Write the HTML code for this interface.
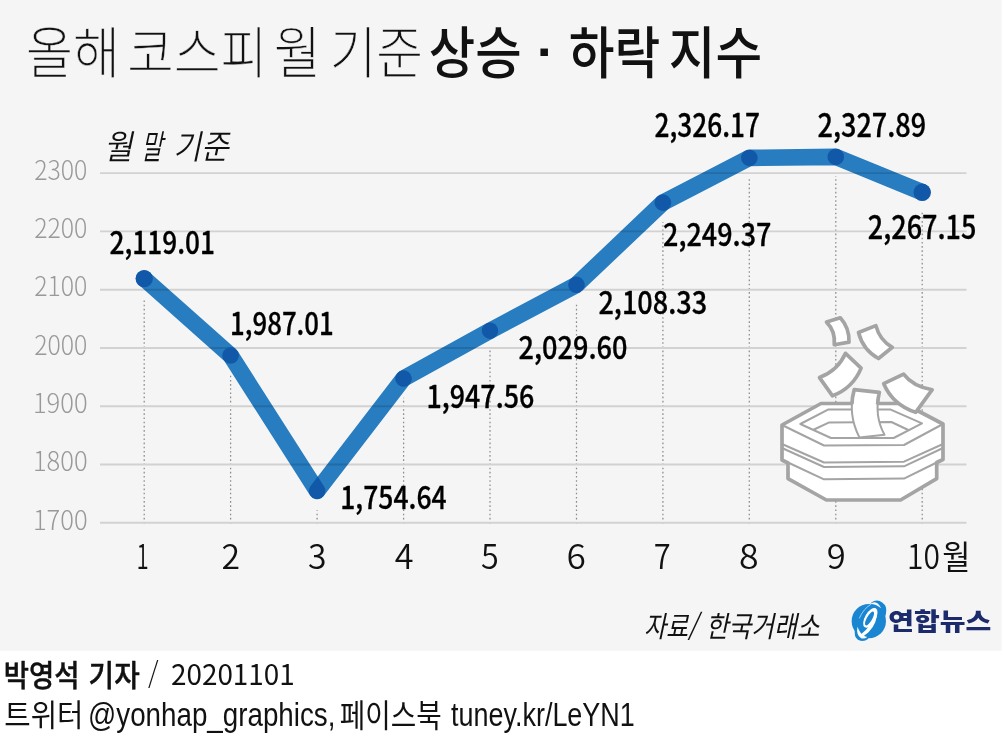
<!DOCTYPE html>
<html lang="ko"><head><meta charset="utf-8"><title>올해 코스피 월 기준 상승·하락 지수</title>
<style>html,body{margin:0;padding:0;background:#fff}body{width:1003px;height:750px;overflow:hidden}svg{display:block}.k{font-family:'Noto Sans CJK KR','Liberation Sans',sans-serif}.l{font-family:'Liberation Sans','Noto Sans CJK KR',sans-serif}</style></head><body>
<svg width="1003" height="750" viewBox="0 0 1003 750">
<rect x="0" y="0" width="1001.6" height="650.8" fill="#f5f5f5"/>
<line x1="144.2" x2="144.2" y1="523.6" y2="297.9" stroke="#8c8c8c" stroke-width="1.25" stroke-dasharray="1.6 2.58"/>
<line x1="230.6" x2="230.6" y1="523.6" y2="374.8" stroke="#8c8c8c" stroke-width="1.25" stroke-dasharray="1.6 2.58"/>
<line x1="317.1" x2="317.1" y1="523.6" y2="510.3" stroke="#8c8c8c" stroke-width="1.25" stroke-dasharray="1.6 2.58"/>
<line x1="403.6" x2="403.6" y1="523.6" y2="397.8" stroke="#8c8c8c" stroke-width="1.25" stroke-dasharray="1.6 2.58"/>
<line x1="490.0" x2="490.0" y1="523.6" y2="350.0" stroke="#8c8c8c" stroke-width="1.25" stroke-dasharray="1.6 2.58"/>
<line x1="576.5" x2="576.5" y1="523.6" y2="304.1" stroke="#8c8c8c" stroke-width="1.25" stroke-dasharray="1.6 2.58"/>
<line x1="662.9" x2="662.9" y1="523.6" y2="221.9" stroke="#8c8c8c" stroke-width="1.25" stroke-dasharray="1.6 2.58"/>
<line x1="749.3" x2="749.3" y1="523.6" y2="177.2" stroke="#8c8c8c" stroke-width="1.25" stroke-dasharray="1.6 2.58"/>
<line x1="835.8" x2="835.8" y1="523.6" y2="176.2" stroke="#8c8c8c" stroke-width="1.25" stroke-dasharray="1.6 2.58"/>
<line x1="922.2" x2="922.2" y1="523.6" y2="211.6" stroke="#8c8c8c" stroke-width="1.25" stroke-dasharray="1.6 2.58"/>
<line x1="100" x2="966.5" y1="522.8" y2="522.8" stroke="#d2d2d2" stroke-width="1.9"/>
<line x1="100" x2="966.5" y1="464.5" y2="464.5" stroke="#d2d2d2" stroke-width="1.9"/>
<line x1="100" x2="966.5" y1="406.2" y2="406.2" stroke="#d2d2d2" stroke-width="1.9"/>
<line x1="100" x2="966.5" y1="348.0" y2="348.0" stroke="#d2d2d2" stroke-width="1.9"/>
<line x1="100" x2="966.5" y1="289.7" y2="289.7" stroke="#d2d2d2" stroke-width="1.9"/>
<line x1="100" x2="966.5" y1="231.4" y2="231.4" stroke="#d2d2d2" stroke-width="1.9"/>
<line x1="100" x2="966.5" y1="173.1" y2="173.1" stroke="#d2d2d2" stroke-width="1.9"/>
<defs><clipPath id="s0"><path d="M138.68,284.80 L225.13,361.73 A8.30,8.30 0 0 0 236.17,349.33 L149.72,272.40 A8.30,8.30 0 0 0 138.68,284.80 Z"/></clipPath><clipPath id="s1"><path d="M223.65,360.00 L310.10,495.42 A8.30,8.30 0 0 0 324.10,486.49 L237.65,351.06 A8.30,8.30 0 0 0 223.65,360.00 Z"/></clipPath><clipPath id="s2"><path d="M323.68,496.02 L410.13,383.58 A8.30,8.30 0 0 0 396.97,373.46 L310.52,485.90 A8.30,8.30 0 0 0 323.68,496.02 Z"/></clipPath><clipPath id="s3"><path d="M407.57,385.79 L494.02,337.97 A8.30,8.30 0 0 0 485.98,323.45 L399.53,371.26 A8.30,8.30 0 0 0 407.57,385.79 Z"/></clipPath><clipPath id="s4"><path d="M493.89,338.04 L580.34,292.16 A8.30,8.30 0 0 0 572.56,277.49 L486.11,323.38 A8.30,8.30 0 0 0 493.89,338.04 Z"/></clipPath><clipPath id="s5"><path d="M582.17,290.84 L668.62,208.64 A8.30,8.30 0 0 0 657.18,196.61 L570.73,278.81 A8.30,8.30 0 0 0 582.17,290.84 Z"/></clipPath><clipPath id="s6"><path d="M666.72,210.00 L753.17,165.24 A8.30,8.30 0 0 0 745.53,150.50 L659.08,195.26 A8.30,8.30 0 0 0 666.72,210.00 Z"/></clipPath><clipPath id="s7"><path d="M749.45,166.17 L835.90,165.17 A8.30,8.30 0 0 0 835.70,148.57 L749.25,149.57 A8.30,8.30 0 0 0 749.45,166.17 Z"/></clipPath><clipPath id="s8"><path d="M832.65,164.55 L919.10,199.95 A8.30,8.30 0 0 0 925.40,184.58 L838.95,149.18 A8.30,8.30 0 0 0 832.65,164.55 Z"/></clipPath></defs>
<g fill="#2982c8" style="mix-blend-mode:multiply">
<path d="M138.68,284.80 L225.13,361.73 A8.30,8.30 0 0 0 236.17,349.33 L149.72,272.40 A8.30,8.30 0 0 0 138.68,284.80 Z M223.65,360.00 L310.10,495.42 A8.30,8.30 0 0 0 324.10,486.49 L237.65,351.06 A8.30,8.30 0 0 0 223.65,360.00 Z M323.68,496.02 L410.13,383.58 A8.30,8.30 0 0 0 396.97,373.46 L310.52,485.90 A8.30,8.30 0 0 0 323.68,496.02 Z M407.57,385.79 L494.02,337.97 A8.30,8.30 0 0 0 485.98,323.45 L399.53,371.26 A8.30,8.30 0 0 0 407.57,385.79 Z M493.89,338.04 L580.34,292.16 A8.30,8.30 0 0 0 572.56,277.49 L486.11,323.38 A8.30,8.30 0 0 0 493.89,338.04 Z M582.17,290.84 L668.62,208.64 A8.30,8.30 0 0 0 657.18,196.61 L570.73,278.81 A8.30,8.30 0 0 0 582.17,290.84 Z M666.72,210.00 L753.17,165.24 A8.30,8.30 0 0 0 745.53,150.50 L659.08,195.26 A8.30,8.30 0 0 0 666.72,210.00 Z M749.45,166.17 L835.90,165.17 A8.30,8.30 0 0 0 835.70,148.57 L749.25,149.57 A8.30,8.30 0 0 0 749.45,166.17 Z M832.65,164.55 L919.10,199.95 A8.30,8.30 0 0 0 925.40,184.58 L838.95,149.18 A8.30,8.30 0 0 0 832.65,164.55 Z"/>
</g>
<g fill="#1159a8">
<path d="M223.65,360.00 L310.10,495.42 A8.30,8.30 0 0 0 324.10,486.49 L237.65,351.06 A8.30,8.30 0 0 0 223.65,360.00 Z" clip-path="url(#s0)"/>
<path d="M323.68,496.02 L410.13,383.58 A8.30,8.30 0 0 0 396.97,373.46 L310.52,485.90 A8.30,8.30 0 0 0 323.68,496.02 Z" clip-path="url(#s1)"/>
<path d="M407.57,385.79 L494.02,337.97 A8.30,8.30 0 0 0 485.98,323.45 L399.53,371.26 A8.30,8.30 0 0 0 407.57,385.79 Z" clip-path="url(#s2)"/>
<path d="M493.89,338.04 L580.34,292.16 A8.30,8.30 0 0 0 572.56,277.49 L486.11,323.38 A8.30,8.30 0 0 0 493.89,338.04 Z" clip-path="url(#s3)"/>
<path d="M582.17,290.84 L668.62,208.64 A8.30,8.30 0 0 0 657.18,196.61 L570.73,278.81 A8.30,8.30 0 0 0 582.17,290.84 Z" clip-path="url(#s4)"/>
<path d="M666.72,210.00 L753.17,165.24 A8.30,8.30 0 0 0 745.53,150.50 L659.08,195.26 A8.30,8.30 0 0 0 666.72,210.00 Z" clip-path="url(#s5)"/>
<path d="M749.45,166.17 L835.90,165.17 A8.30,8.30 0 0 0 835.70,148.57 L749.25,149.57 A8.30,8.30 0 0 0 749.45,166.17 Z" clip-path="url(#s6)"/>
<path d="M832.65,164.55 L919.10,199.95 A8.30,8.30 0 0 0 925.40,184.58 L838.95,149.18 A8.30,8.30 0 0 0 832.65,164.55 Z" clip-path="url(#s7)"/>
<circle cx="144.2" cy="278.6" r="8.7"/><circle cx="922.2" cy="192.3" r="8.7"/>
</g>
<defs><clipPath id="cpE"><rect x="840" y="380" width="60" height="24.2"/></clipPath></defs>
<g fill="#fff" stroke="#a4a4a4" stroke-linejoin="round" stroke-linecap="round">
<path d="M821,403.5 L782,425 L782,460 L788,463 L788,478.6 L826.4,500 L900.6,500 L936.7,478.6 L936.7,462.5 L943,459.5 L943,424 L904,403.5 Z" stroke-width="3.7"/>
<g fill="none" stroke-width="2">
<path d="M782,425 L824,445.5 L904,445 L943,424"/>
<path d="M800.3,424 L828,409.6 L890.7,409.6 L922,423.4 L893.7,438 L831,438 Z"/>
<path d="M814,429.5 L828.7,422.6 L891.4,422 L908.3,430"/>
<path d="M782,444 L824,462.5 L904,461.7 L943,444"/>
<path d="M782,448 L824,467 L904,466.3 L943,448"/>
<path d="M788,462.5 L824,479.3 L904,478.6 L936.7,462.5"/>
</g>
<path d="M854.2,389.7 L879.3,392.3 Q874,416 884.5,434.8 L859.4,437.4 Q847.5,414 854.2,389.7 Z" stroke-width="2"/>
<path d="M854.2,389.7 L879.3,392.3 Q874,416 884.5,434.8 L859.4,437.4 Q847.5,414 854.2,389.7 Z" stroke-width="3.7" fill="none" clip-path="url(#cpE)"/>
<path d="M883.7,383.7 L903.6,374.1 Q913,386.5 932.2,389.7 L915.7,412.3 Q893,405 883.7,383.7 Z" stroke-width="3.7"/>
<path d="M845.5,353.3 L861.1,368.1 Q853,388 832.5,395.8 L819.5,377.6 Q838,370.5 845.5,353.3 Z" stroke-width="3.7"/>
<path d="M858.5,332.5 L875.9,325.6 Q879.5,340 892.3,347.3 L878.5,358.5 Q863,350 858.5,332.5 Z" stroke-width="3.7"/>
<path d="M826.5,322.1 L840.3,317.8 Q849.5,328 849,342.1 L834.3,344.7 Q835.5,331 826.5,322.1 Z" stroke-width="3.7"/>
</g>

<text class="k" transform="translate(26.09,73.38) scale(0.9096,1)" font-size="56.22" font-weight="300" fill="#111" stroke="#f5f5f5" stroke-width="0.40" vector-effect="non-scaling-stroke">올해</text>
<text class="k" transform="translate(127.35,73.38) scale(0.8998,1)" font-size="56.22" font-weight="300" fill="#111" stroke="#f5f5f5" stroke-width="0.40" vector-effect="non-scaling-stroke">코스피</text>
<text class="k" transform="translate(274.10,73.38) scale(0.9067,1)" font-size="56.22" font-weight="300" fill="#111" stroke="#f5f5f5" stroke-width="0.40" vector-effect="non-scaling-stroke">월</text>
<text class="k" transform="translate(329.63,73.38) scale(0.9027,1)" font-size="56.22" font-weight="300" fill="#111" stroke="#f5f5f5" stroke-width="0.40" vector-effect="non-scaling-stroke">기준</text>
<text class="k" transform="translate(428.85,73.22) scale(0.9119,1)" font-size="55.35" font-weight="500" fill="#111">상승</text>
<text class="l" transform="translate(536.84,69.07) scale(1.0562,1)" font-size="50.67" font-weight="700" fill="#111">·</text>
<text class="k" transform="translate(568.86,73.22) scale(0.8990,1)" font-size="55.35" font-weight="500" fill="#111">하락</text>
<text class="k" transform="translate(668.84,73.22) scale(0.9166,1)" font-size="55.35" font-weight="500" fill="#111">지수</text>
<text class="k" transform="translate(104.02,159.00) skewX(-12) scale(0.9212,1)" font-size="33.74" font-weight="350" fill="#111">월</text>
<text class="k" transform="translate(140.85,159.00) skewX(-12) scale(0.6894,1)" font-size="33.74" font-weight="350" fill="#111">말</text>
<text class="k" transform="translate(173.26,159.00) skewX(-12) scale(0.8972,1)" font-size="33.74" font-weight="350" fill="#111">기준</text>
<text class="k" transform="translate(32.94,529.60) scale(0.9547,1)" font-size="26.80" font-weight="300" fill="#999">1700</text>
<text class="k" transform="translate(32.94,471.32) scale(0.9547,1)" font-size="26.80" font-weight="300" fill="#999">1800</text>
<text class="k" transform="translate(32.94,413.04) scale(0.9547,1)" font-size="26.80" font-weight="300" fill="#999">1900</text>
<text class="k" transform="translate(34.13,354.76) scale(0.9274,1)" font-size="26.80" font-weight="300" fill="#999">2000</text>
<text class="k" transform="translate(34.13,296.48) scale(0.9274,1)" font-size="26.80" font-weight="300" fill="#999">2100</text>
<text class="k" transform="translate(34.13,238.20) scale(0.9274,1)" font-size="26.80" font-weight="300" fill="#999">2200</text>
<text class="k" transform="translate(34.13,179.92) scale(0.9274,1)" font-size="26.80" font-weight="300" fill="#999">2300</text>
<text class="k" transform="translate(109.46,253.78) scale(0.8393,1)" font-size="31.28" font-weight="500" fill="#000" stroke="#000" stroke-width="0.30" vector-effect="non-scaling-stroke" stroke-linejoin="round">2,119.01</text>
<text class="k" transform="translate(230.12,335.28) scale(0.8246,1)" font-size="31.28" font-weight="500" fill="#000" stroke="#000" stroke-width="0.30" vector-effect="non-scaling-stroke" stroke-linejoin="round">1,987.01</text>
<text class="k" transform="translate(340.26,509.18) scale(0.8461,1)" font-size="31.28" font-weight="500" fill="#000" stroke="#000" stroke-width="0.30" vector-effect="non-scaling-stroke" stroke-linejoin="round">1,754.64</text>
<text class="k" transform="translate(426.54,408.38) scale(0.8535,1)" font-size="31.41" font-weight="500" fill="#000" stroke="#000" stroke-width="0.30" vector-effect="non-scaling-stroke" stroke-linejoin="round">1,947.56</text>
<text class="k" transform="translate(518.52,359.08) scale(0.8606,1)" font-size="31.54" font-weight="500" fill="#000" stroke="#000" stroke-width="0.30" vector-effect="non-scaling-stroke" stroke-linejoin="round">2,029.60</text>
<text class="k" transform="translate(598.40,313.67) scale(0.8551,1)" font-size="31.68" font-weight="500" fill="#000" stroke="#000" stroke-width="0.30" vector-effect="non-scaling-stroke" stroke-linejoin="round">2,108.33</text>
<text class="k" transform="translate(663.09,246.07) scale(0.8508,1)" font-size="31.68" font-weight="500" fill="#000" stroke="#000" stroke-width="0.30" vector-effect="non-scaling-stroke" stroke-linejoin="round">2,249.37</text>
<text class="k" transform="translate(654.56,136.67) scale(0.8247,1)" font-size="31.81" font-weight="500" fill="#000" stroke="#000" stroke-width="0.30" vector-effect="non-scaling-stroke" stroke-linejoin="round">2,326.17</text>
<text class="k" transform="translate(817.50,136.67) scale(0.8509,1)" font-size="31.81" font-weight="500" fill="#000" stroke="#000" stroke-width="0.30" vector-effect="non-scaling-stroke" stroke-linejoin="round">2,327.89</text>
<text class="k" transform="translate(867.78,239.27) scale(0.8456,1)" font-size="31.95" font-weight="500" fill="#000" stroke="#000" stroke-width="0.30" vector-effect="non-scaling-stroke" stroke-linejoin="round">2,267.15</text>
<text class="k" transform="translate(136.45,569.09) scale(0.6591,1)" font-size="33.78" font-weight="350" fill="#111">1</text>
<text class="k" transform="translate(221.40,569.09) scale(1.0005,1)" font-size="33.78" font-weight="350" fill="#111">2</text>
<text class="k" transform="translate(308.11,569.09) scale(0.9976,1)" font-size="33.78" font-weight="350" fill="#111">3</text>
<text class="k" transform="translate(394.69,569.09) scale(1.0165,1)" font-size="33.78" font-weight="350" fill="#111">4</text>
<text class="k" transform="translate(481.12,569.09) scale(0.9578,1)" font-size="33.78" font-weight="350" fill="#111">5</text>
<text class="k" transform="translate(566.40,569.09) scale(1.0414,1)" font-size="33.78" font-weight="350" fill="#111">6</text>
<text class="k" transform="translate(653.65,569.09) scale(0.9116,1)" font-size="33.78" font-weight="350" fill="#111">7</text>
<text class="k" transform="translate(738.98,569.09) scale(1.0575,1)" font-size="33.78" font-weight="350" fill="#111">8</text>
<text class="k" transform="translate(826.87,569.09) scale(1.0259,1)" font-size="33.78" font-weight="350" fill="#111">9</text>
<text class="k" transform="translate(906.93,569.09) scale(0.8871,1)" font-size="33.78" font-weight="350" fill="#111">10</text>
<text class="k" transform="translate(942.35,569.41) scale(0.9366,1)" font-size="32.67" font-weight="400" fill="#111">월</text>
<text class="k" transform="translate(643.96,636.55) skewX(-12) scale(0.8241,1)" font-size="29.10" font-weight="400" fill="#111">자료/</text>
<text class="k" transform="translate(705.69,636.55) skewX(-12) scale(0.8510,1)" font-size="29.10" font-weight="400" fill="#111">한국거래소</text>
<text class="k" transform="translate(888.14,630.19) scale(1.1636,1)" font-size="24.08" font-weight="900" fill="#1b2b6b">연합뉴스</text>
<text class="k" transform="translate(3.81,686.29) scale(0.9218,1)" font-size="29.78" font-weight="500" fill="#111" stroke="#111" stroke-width="0.45" vector-effect="non-scaling-stroke" stroke-linejoin="round">박영석</text>
<text class="k" transform="translate(88.59,686.29) scale(0.9328,1)" font-size="29.78" font-weight="500" fill="#111" stroke="#111" stroke-width="0.45" vector-effect="non-scaling-stroke" stroke-linejoin="round">기자</text>
<text class="k" transform="translate(148.00,684.78) scale(0.9181,1)" font-size="29.02" font-weight="300" fill="#111">/</text>
<text class="k" transform="translate(170.95,685.36) scale(0.9602,1)" font-size="29.05" font-weight="400" fill="#111">20201101</text>
<text class="k" transform="translate(4.29,725.80) scale(0.9371,1)" font-size="30.60" font-weight="400" fill="#111">트위터</text>
<text class="l" transform="translate(88.08,726.30) scale(0.8439,1)" font-size="32.90" font-weight="400" fill="#111">@yonhap_graphics,</text>
<text class="k" transform="translate(339.83,726.92) scale(0.8807,1)" font-size="31.48" font-weight="400" fill="#111">페이스북</text>
<text class="l" transform="translate(451.07,726.30) scale(0.8190,1)" font-size="32.90" font-weight="400" fill="#111">tuney.kr/LeYN1</text>
<g transform="translate(845,595) scale(0.066667)">
<circle cx="357" cy="392" r="257" fill="#1a86d2"/>
<ellipse cx="382" cy="395" rx="165" ry="330" transform="rotate(36.6 382 395)" fill="#1a86d2"/>
<ellipse cx="478" cy="180" rx="112" ry="96" fill="#1a86d2"/>
<ellipse cx="262" cy="598" rx="108" ry="92" fill="#1a86d2"/>
<path d="M380,132 Q478,62 542,200 Q468,138 380,132 Z" fill="#fff"/>
<path d="M398,134 Q275,205 214,352" fill="none" stroke="#fff" stroke-width="10" opacity="0.9"/>
<path d="M186,476 Q166,605 242,648 Q295,664 332,630 Q256,608 224,550 Q202,515 186,476 Z" fill="#fff"/>
<ellipse cx="380" cy="342" rx="80" ry="165" transform="rotate(30 380 342)" fill="#fff"/>
<ellipse cx="368" cy="352" rx="40" ry="118" transform="rotate(30 368 352)" fill="#1a86d2"/>
<path d="M482,300 Q450,510 272,624 L240,590 Q385,480 428,330 Z" fill="#fff"/>
</g>

</svg></body></html>
